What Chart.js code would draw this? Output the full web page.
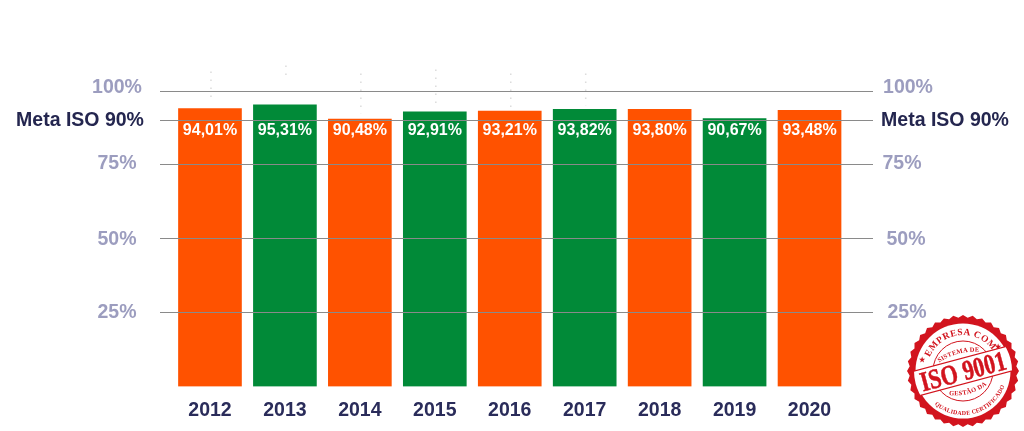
<!DOCTYPE html>
<html>
<head>
<meta charset="utf-8">
<script src="https://cdn.jsdelivr.net/npm/chart.js@4"></script>
<style>
  html, body { margin: 0; padding: 0; background: #fff; overflow: hidden; }
  #wrap { position: relative; width: 1024px; height: 431px; }
  #seal { position: absolute; left: 907px; top: 315px; }
</style>
</head>
<body>
<div id="wrap">
  <canvas id="chart" width="1024" height="431"></canvas>
  <svg id="seal" width="112" height="112" viewBox="0 0 112 112">
    <defs>
      <path id="arcTop" d="M 20 56 A 36 36 0 0 1 92 56"/>
      <path id="arcBottom" d="M 12 56 A 44 44 0 0 0 100 56"/>
      <path id="arcInTop" d="M 32 43 Q 56 33 80 43"/>
      <path id="arcInBottom" d="M 33 74 Q 56 85 79 74"/>
      <clipPath id="inner"><circle cx="56" cy="56" r="49"/></clipPath>
    </defs>
    <g fill="#d2141e" font-family="'Liberation Serif', serif" font-weight="bold">
      <path id="scallop"/>
      <circle cx="56" cy="56" r="47.5" fill="#fff"/>
      <circle cx="56" cy="56" r="30" fill="none" stroke="#d2141e" stroke-width="1"/>
      <text font-size="9.5" letter-spacing="0.5" transform="rotate(-6 56 56)"><textPath href="#arcTop" startOffset="50%" text-anchor="middle">EMPRESA COM</textPath></text>
      <text x="12" y="47" font-size="7">★</text>
      <text x="88" y="34" font-size="7">★</text>
      <g transform="rotate(-15 56 56)">
        <text font-size="6" letter-spacing="0.2"><textPath href="#arcBottom" startOffset="50%" text-anchor="middle">QUALIDADE CERTIFICADO</textPath></text>
        <text font-size="6.5" letter-spacing="0.3"><textPath href="#arcInTop" startOffset="50%" text-anchor="middle">SISTEMA DE</textPath></text>
        <text font-size="6.5" letter-spacing="0.3"><textPath href="#arcInBottom" startOffset="50%" text-anchor="middle">GESTÃO DA</textPath></text>
        <g clip-path="url(#inner)">
          <rect x="0" y="43.5" width="112" height="25" fill="#fff"/>
          <path d="M 0 43.5 H 112 M 0 68.5 H 112" stroke="#d2141e" stroke-width="1.2"/>
        </g>
        <text x="56" y="65.5" font-size="28" text-anchor="middle" textLength="88" lengthAdjust="spacingAndGlyphs" stroke="#d2141e" stroke-width="0.5">ISO 9001</text>
      </g>
    </g>
  </svg>
</div>
<script>
let years = [2012, 2013, 2014, 2015, 2016, 2017, 2018, 2019, 2020];
let values = [94.01, 95.31, 90.48, 92.91, 93.21, 93.82, 93.80, 90.67, 93.48];
let gridValues = [25, 50, 75, 90, 100];
let tickLabels = ['25%', '50%', '75%', 'Meta ISO 90%', '100%'];

// faint dots above the bars, read in axis units
let dotFrom = [106.6, 108.6, 105.9, 107.3, 105.9, 105.9];
let dotTo = [97, 104.6, 92.3, 94.3, 93.5, 95];

const ORANGE = '#ff5200';
const GREEN = '#018a38';
const barColors = [ORANGE, GREEN, ORANGE, GREEN, ORANGE, GREEN, ORANGE, GREEN, ORANGE];

// x of each side label's centre / y nudge: labels in the original are not aligned
const leftX = { '25%': 117, '50%': 117, '75%': 117, 'Meta ISO 90%': 80, '100%': 117 };
const rightX = { '25%': 907, '50%': 906, '75%': 902, 'Meta ISO 90%': 945, '100%': 908 };
const nudgeY = { '25%': 0, '50%': 1, '75%': -1, 'Meta ISO 90%': 0, '100%': -3 };

let extras = {
  id: 'extras',
  afterDraw(chart) {
    let c = chart.ctx;
    let x = chart.scales.x, y = chart.scales.y;

    c.save();
    c.strokeStyle = '#dcdcdc';
    c.lineWidth = 1.5;
    c.setLineDash([1.5, 6.5]);
    dotFrom.forEach((v, i) => {
      let px = x.getPixelForValue(i) + 1;
      c.beginPath();
      c.moveTo(px, y.getPixelForValue(v));
      c.lineTo(px, y.getPixelForValue(dotTo[i]));
      c.stroke();
    });
    c.restore();

    c.save();
    c.textAlign = 'center';
    c.textBaseline = 'middle';

    // value labels
    c.font = 'bold 16px "Liberation Sans", Arial, sans-serif';
    c.fillStyle = '#fff';
    values.forEach((v, i) => {
      c.fillText(v.toFixed(2).replace('.', ',') + '%', x.getPixelForValue(i), y.getPixelForValue(86.7));
    });

    // axis labels both sides
    c.font = 'bold 19.5px "Liberation Sans", Arial, sans-serif';
    gridValues.forEach((v, i) => {
      let t = tickLabels[i];
      let py = y.getPixelForValue(v) + nudgeY[t];
      c.fillStyle = v === 90 ? '#24264f' : '#9c9dbf';
      c.fillText(t, leftX[t], py);
      c.fillText(t, rightX[t], py);
    });
    c.restore();
  }
};

let sideAxis = (position, tickLength, onArea) => ({
  position: position,
  min: 0,
  max: 100,
  afterBuildTicks: axis => { axis.ticks = gridValues.map(v => ({ value: v })); },
  ticks: { display: false, autoSkip: false },
  border: { display: false },
  grid: {
    z: 1,
    color: '#8a8a8a',
    tickColor: '#8a8a8a',
    lineWidth: 1,
    tickLength: tickLength,
    drawOnChartArea: onArea
  }
});

new Chart(document.getElementById('chart').getContext('2d'), {
  type: 'bar',
  data: {
    labels: years,
    datasets: [{
      data: values,
      backgroundColor: barColors,
      barThickness: 63,
      yAxisID: 'y'
    }]
  },
  options: {
    animation: false,
    responsive: false,
    layout: { padding: { left: 160, right: 151, top: 91, bottom: 0 } },
    plugins: { legend: { display: false }, tooltip: { enabled: false } },
    scales: {
      x: {
        afterFit: axis => { axis.height = 44.5; },
        grid: { display: false, drawTicks: false },
        border: { display: false },
        ticks: {
          color: '#2a2c5a',
          padding: 12,
          maxRotation: 0,
          font: { family: '"Liberation Sans", Arial, sans-serif', size: 19.5, weight: 'bold' }
        }
      },
      y: sideAxis('left', 12.5, true),
      y2: sideAxis('right', 26, false)
    }
  },
  plugins: [extras]
});

// scalloped edge of the seal
let pts = [];
for (let i = 0; i < 72; i++) {
  let r = i % 2 ? 53.5 : 56;
  let a = i * Math.PI / 36;
  pts.push((56 + r * Math.cos(a)).toFixed(2) + ' ' + (56 + r * Math.sin(a)).toFixed(2));
}
document.getElementById('scallop').setAttribute('d', 'M ' + pts.join(' L ') + ' Z');
</script>
</body>
</html>
